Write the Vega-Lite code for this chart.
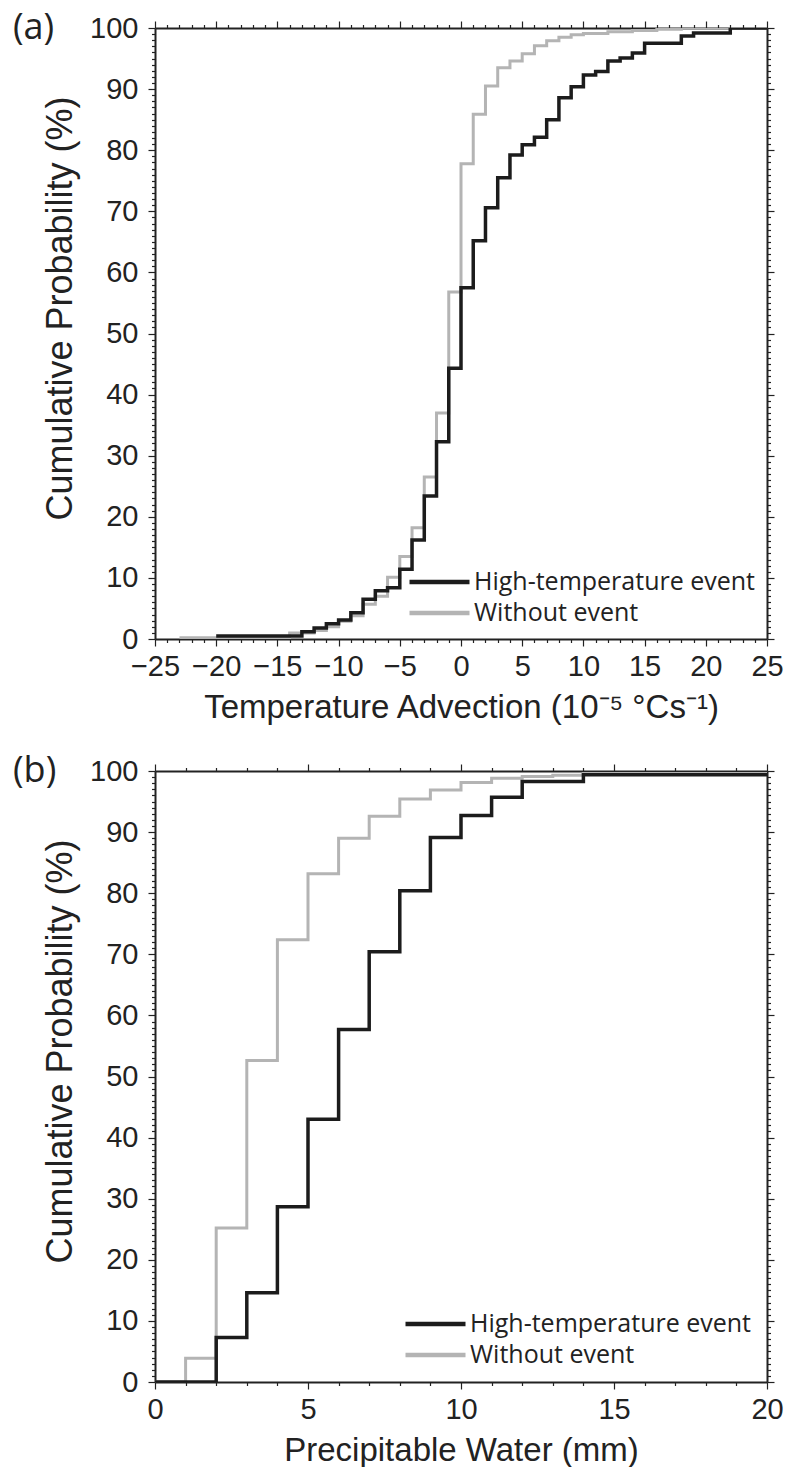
{
  "$schema": "https://vega.github.io/schema/vega-lite/v6.json",
  "background": "white",
  "padding": {"left": 13, "top": 10, "right": 10, "bottom": 0},
  "spacing": 29,
  "config": {
    "view": {"stroke": null},
    "axis": {"grid": false, "domainColor": "#222", "domainWidth": 2, "tickColor": "#222", "tickWidth": 1.2, "labelFont": "Liberation Sans", "labelFontSize": 29, "labelColor": "#222", "titleFont": "Liberation Sans", "titleFontSize": 33, "titleFontWeight": "normal", "titleColor": "#222", "labelOverlap": false, "labelFlush": false},
    "axisLeft": {"titleFontSize": 36, "titleY": 280},
    "legend": {"orient": "none", "title": null, "symbolType": "stroke", "symbolSize": 3600, "symbolStrokeWidth": 4.5, "labelFont": "Open Sans", "labelFontSize": 25, "labelColor": "#222", "labelOffset": 2, "clipHeight": 27, "rowPadding": 4, "labelLimit": 400},
    "title": {"font": "Open Sans", "fontSize": 36, "fontWeight": "normal", "color": "#222", "anchor": "start", "frame": "group", "offset": -33, "dx": -142}
  },
  "resolve": {"scale": {"x": "independent", "y": "independent", "color": "independent"}, "legend": {"color": "independent"}, "axis": {"x": "independent", "y": "independent"}},
  "vconcat": [
    {
      "width": 612,
      "height": 611,
      "title": {"text": "(a)"},
      "data": {"values": [
        {"series": "High-temperature event", "x": -20, "p": 0.5},
        {"series": "High-temperature event", "x": -13, "p": 1.2},
        {"series": "High-temperature event", "x": -12, "p": 1.8},
        {"series": "High-temperature event", "x": -11, "p": 2.5},
        {"series": "High-temperature event", "x": -10, "p": 3.1},
        {"series": "High-temperature event", "x": -9, "p": 4.3},
        {"series": "High-temperature event", "x": -8, "p": 6.5},
        {"series": "High-temperature event", "x": -7, "p": 7.9},
        {"series": "High-temperature event", "x": -6, "p": 8.4},
        {"series": "High-temperature event", "x": -5, "p": 11.4},
        {"series": "High-temperature event", "x": -4, "p": 16.2},
        {"series": "High-temperature event", "x": -3, "p": 23.4},
        {"series": "High-temperature event", "x": -2, "p": 32.3},
        {"series": "High-temperature event", "x": -1, "p": 44.3},
        {"series": "High-temperature event", "x": 0, "p": 57.5},
        {"series": "High-temperature event", "x": 1, "p": 65.2},
        {"series": "High-temperature event", "x": 2, "p": 70.6},
        {"series": "High-temperature event", "x": 3, "p": 75.5},
        {"series": "High-temperature event", "x": 4, "p": 79.2},
        {"series": "High-temperature event", "x": 5, "p": 80.9},
        {"series": "High-temperature event", "x": 6, "p": 82.1},
        {"series": "High-temperature event", "x": 7, "p": 85.0},
        {"series": "High-temperature event", "x": 8, "p": 88.6},
        {"series": "High-temperature event", "x": 9, "p": 90.4},
        {"series": "High-temperature event", "x": 10, "p": 92.3},
        {"series": "High-temperature event", "x": 11, "p": 92.9},
        {"series": "High-temperature event", "x": 12, "p": 94.6},
        {"series": "High-temperature event", "x": 13, "p": 95.1},
        {"series": "High-temperature event", "x": 14, "p": 95.9},
        {"series": "High-temperature event", "x": 15, "p": 97.5},
        {"series": "High-temperature event", "x": 18, "p": 98.7},
        {"series": "High-temperature event", "x": 19, "p": 99.2},
        {"series": "High-temperature event", "x": 22, "p": 100},
        {"series": "High-temperature event", "x": 25, "p": 100},
        {"series": "Without event", "x": -23, "p": 0.2},
        {"series": "Without event", "x": -14, "p": 1.0},
        {"series": "Without event", "x": -12, "p": 1.4},
        {"series": "Without event", "x": -11, "p": 2.0},
        {"series": "Without event", "x": -10, "p": 2.9},
        {"series": "Without event", "x": -9, "p": 3.8},
        {"series": "Without event", "x": -8, "p": 5.7},
        {"series": "Without event", "x": -7, "p": 7.0},
        {"series": "Without event", "x": -6, "p": 10.1},
        {"series": "Without event", "x": -5, "p": 13.5},
        {"series": "Without event", "x": -4, "p": 18.2},
        {"series": "Without event", "x": -3, "p": 26.5},
        {"series": "Without event", "x": -2, "p": 37.0},
        {"series": "Without event", "x": -1, "p": 56.8},
        {"series": "Without event", "x": 0, "p": 77.8},
        {"series": "Without event", "x": 1, "p": 85.9},
        {"series": "Without event", "x": 2, "p": 90.5},
        {"series": "Without event", "x": 3, "p": 93.5},
        {"series": "Without event", "x": 4, "p": 94.6},
        {"series": "Without event", "x": 5, "p": 95.8},
        {"series": "Without event", "x": 6, "p": 97.1},
        {"series": "Without event", "x": 7, "p": 97.9},
        {"series": "Without event", "x": 8, "p": 98.5},
        {"series": "Without event", "x": 9, "p": 98.9},
        {"series": "Without event", "x": 10, "p": 99.1},
        {"series": "Without event", "x": 12, "p": 99.4},
        {"series": "Without event", "x": 14, "p": 99.6},
        {"series": "Without event", "x": 16, "p": 99.8},
        {"series": "Without event", "x": 18, "p": 100},
        {"series": "Without event", "x": 25, "p": 100}
      ]},
      "layer": [
        {
          "transform": [{"filter": "datum.series === 'Without event'"}],
          "mark": {"type": "line", "interpolate": "step-after", "strokeWidth": 3, "clip": true},
          "encoding": {
            "x": {"field": "x", "type": "quantitative", "title": "Temperature Advection (10⁻⁵ °Cs⁻¹)",
              "scale": {"domain": [-25, 25], "nice": false, "zero": false},
              "axis": {"orient": "bottom", "values": [-25,-24,-23,-22,-21,-20,-19,-18,-17,-16,-15,-14,-13,-12,-11,-10,-9,-8,-7,-6,-5,-4,-3,-2,-1,0,1,2,3,4,5,6,7,8,9,10,11,12,13,14,15,16,17,18,19,20,21,22,23,24,25],
                "tickSize": {"condition": {"test": "datum.value % 5 === 0", "value": 7}, "value": 3.5},
                "labelExpr": "datum.value % 5 === 0 ? datum.label : ''", "labelPadding": 6, "titlePadding": 10}},
            "y": {"field": "p", "type": "quantitative", "title": "Cumulative Probability (%)",
              "scale": {"domain": [0, 100], "nice": false},
              "axis": {"orient": "left", "values": [0,1,2,3,4,5,6,7,8,9,10,11,12,13,14,15,16,17,18,19,20,21,22,23,24,25,26,27,28,29,30,31,32,33,34,35,36,37,38,39,40,41,42,43,44,45,46,47,48,49,50,51,52,53,54,55,56,57,58,59,60,61,62,63,64,65,66,67,68,69,70,71,72,73,74,75,76,77,78,79,80,81,82,83,84,85,86,87,88,89,90,91,92,93,94,95,96,97,98,99,100],
                "tickSize": {"condition": {"test": "datum.value % 10 === 0", "value": 7}, "value": 3.5},
                "labelExpr": "datum.value % 10 === 0 ? datum.label : ''", "labelPadding": 10, "titlePadding": 10}},
            "color": {"field": "series", "type": "nominal",
              "scale": {"domain": ["High-temperature event", "Without event"], "range": ["#1c1c1c", "#b4b4b4"]},
              "legend": {"legendX": 252, "legendY": 540.5}}
          }
        },
        {
          "transform": [{"filter": "datum.series === 'High-temperature event'"}],
          "mark": {"type": "line", "interpolate": "step-after", "strokeWidth": 3.5, "clip": true},
          "encoding": {
            "x": {"field": "x", "type": "quantitative", "title": null,
              "scale": {"domain": [-25, 25], "nice": false, "zero": false},
              "axis": {"orient": "top", "values": [-25,-24,-23,-22,-21,-20,-19,-18,-17,-16,-15,-14,-13,-12,-11,-10,-9,-8,-7,-6,-5,-4,-3,-2,-1,0,1,2,3,4,5,6,7,8,9,10,11,12,13,14,15,16,17,18,19,20,21,22,23,24,25],
                "tickSize": {"condition": {"test": "datum.value % 5 === 0", "value": 7}, "value": 3.5},
                "labels": false}},
            "y": {"field": "p", "type": "quantitative", "title": null,
              "scale": {"domain": [0, 100], "nice": false},
              "axis": {"orient": "right", "values": [0,1,2,3,4,5,6,7,8,9,10,11,12,13,14,15,16,17,18,19,20,21,22,23,24,25,26,27,28,29,30,31,32,33,34,35,36,37,38,39,40,41,42,43,44,45,46,47,48,49,50,51,52,53,54,55,56,57,58,59,60,61,62,63,64,65,66,67,68,69,70,71,72,73,74,75,76,77,78,79,80,81,82,83,84,85,86,87,88,89,90,91,92,93,94,95,96,97,98,99,100],
                "tickSize": {"condition": {"test": "datum.value % 10 === 0", "value": 7}, "value": 3.5},
                "labels": false}},
            "color": {"field": "series", "type": "nominal",
              "scale": {"domain": ["High-temperature event", "Without event"], "range": ["#1c1c1c", "#b4b4b4"]},
              "legend": {"legendX": 252, "legendY": 540.5}}
          }
        }
      ],
      "resolve": {"axis": {"x": "independent", "y": "independent"}}
    },
    {
      "width": 612,
      "height": 611,
      "title": {"text": "(b)"},
      "data": {"values": [
        {"series": "High-temperature event", "x": 0, "p": 0},
        {"series": "High-temperature event", "x": 2, "p": 7.3},
        {"series": "High-temperature event", "x": 3, "p": 14.6},
        {"series": "High-temperature event", "x": 4, "p": 28.7},
        {"series": "High-temperature event", "x": 5, "p": 43.0},
        {"series": "High-temperature event", "x": 6, "p": 57.7},
        {"series": "High-temperature event", "x": 7, "p": 70.4},
        {"series": "High-temperature event", "x": 8, "p": 80.4},
        {"series": "High-temperature event", "x": 9, "p": 89.1},
        {"series": "High-temperature event", "x": 10, "p": 92.7},
        {"series": "High-temperature event", "x": 11, "p": 95.7},
        {"series": "High-temperature event", "x": 12, "p": 98.3},
        {"series": "High-temperature event", "x": 14, "p": 99.4},
        {"series": "High-temperature event", "x": 20, "p": 99.4},
        {"series": "Without event", "x": 0, "p": 0},
        {"series": "Without event", "x": 1, "p": 3.9},
        {"series": "Without event", "x": 2, "p": 25.2},
        {"series": "Without event", "x": 3, "p": 52.6},
        {"series": "Without event", "x": 4, "p": 72.4},
        {"series": "Without event", "x": 5, "p": 83.2},
        {"series": "Without event", "x": 6, "p": 89.0},
        {"series": "Without event", "x": 7, "p": 92.6},
        {"series": "Without event", "x": 8, "p": 95.4},
        {"series": "Without event", "x": 9, "p": 96.9},
        {"series": "Without event", "x": 10, "p": 98.1},
        {"series": "Without event", "x": 11, "p": 98.8},
        {"series": "Without event", "x": 12, "p": 99.1},
        {"series": "Without event", "x": 13, "p": 99.3},
        {"series": "Without event", "x": 14, "p": 99.6},
        {"series": "Without event", "x": 20, "p": 99.6}
      ]},
      "layer": [
        {
          "transform": [{"filter": "datum.series === 'Without event'"}],
          "mark": {"type": "line", "interpolate": "step-after", "strokeWidth": 3, "clip": true},
          "encoding": {
            "x": {"field": "x", "type": "quantitative", "title": "Precipitable Water (mm)",
              "scale": {"domain": [0, 20], "nice": false},
              "axis": {"orient": "bottom", "values": [0,1,2,3,4,5,6,7,8,9,10,11,12,13,14,15,16,17,18,19,20],
                "tickSize": {"condition": {"test": "datum.value % 5 === 0", "value": 7}, "value": 3.5},
                "labelExpr": "datum.value % 5 === 0 ? datum.label : ''", "labelPadding": 6, "titlePadding": 10}},
            "y": {"field": "p", "type": "quantitative", "title": "Cumulative Probability (%)",
              "scale": {"domain": [0, 100], "nice": false},
              "axis": {"orient": "left", "values": [0,1,2,3,4,5,6,7,8,9,10,11,12,13,14,15,16,17,18,19,20,21,22,23,24,25,26,27,28,29,30,31,32,33,34,35,36,37,38,39,40,41,42,43,44,45,46,47,48,49,50,51,52,53,54,55,56,57,58,59,60,61,62,63,64,65,66,67,68,69,70,71,72,73,74,75,76,77,78,79,80,81,82,83,84,85,86,87,88,89,90,91,92,93,94,95,96,97,98,99,100],
                "tickSize": {"condition": {"test": "datum.value % 10 === 0", "value": 7}, "value": 3.5},
                "labelExpr": "datum.value % 10 === 0 ? datum.label : ''", "labelPadding": 10, "titlePadding": 10}},
            "color": {"field": "series", "type": "nominal",
              "scale": {"domain": ["High-temperature event", "Without event"], "range": ["#1c1c1c", "#b4b4b4"]},
              "legend": {"legendX": 248, "legendY": 539.5}}
          }
        },
        {
          "transform": [{"filter": "datum.series === 'High-temperature event'"}],
          "mark": {"type": "line", "interpolate": "step-after", "strokeWidth": 3.5, "clip": true},
          "encoding": {
            "x": {"field": "x", "type": "quantitative", "title": null,
              "scale": {"domain": [0, 20], "nice": false},
              "axis": {"orient": "top", "values": [0,1,2,3,4,5,6,7,8,9,10,11,12,13,14,15,16,17,18,19,20],
                "tickSize": {"condition": {"test": "datum.value % 5 === 0", "value": 7}, "value": 3.5},
                "labels": false}},
            "y": {"field": "p", "type": "quantitative", "title": null,
              "scale": {"domain": [0, 100], "nice": false},
              "axis": {"orient": "right", "values": [0,1,2,3,4,5,6,7,8,9,10,11,12,13,14,15,16,17,18,19,20,21,22,23,24,25,26,27,28,29,30,31,32,33,34,35,36,37,38,39,40,41,42,43,44,45,46,47,48,49,50,51,52,53,54,55,56,57,58,59,60,61,62,63,64,65,66,67,68,69,70,71,72,73,74,75,76,77,78,79,80,81,82,83,84,85,86,87,88,89,90,91,92,93,94,95,96,97,98,99,100],
                "tickSize": {"condition": {"test": "datum.value % 10 === 0", "value": 7}, "value": 3.5},
                "labels": false}},
            "color": {"field": "series", "type": "nominal",
              "scale": {"domain": ["High-temperature event", "Without event"], "range": ["#1c1c1c", "#b4b4b4"]},
              "legend": {"legendX": 248, "legendY": 539.5}}
          }
        }
      ],
      "resolve": {"axis": {"x": "independent", "y": "independent"}}
    }
  ]
}
